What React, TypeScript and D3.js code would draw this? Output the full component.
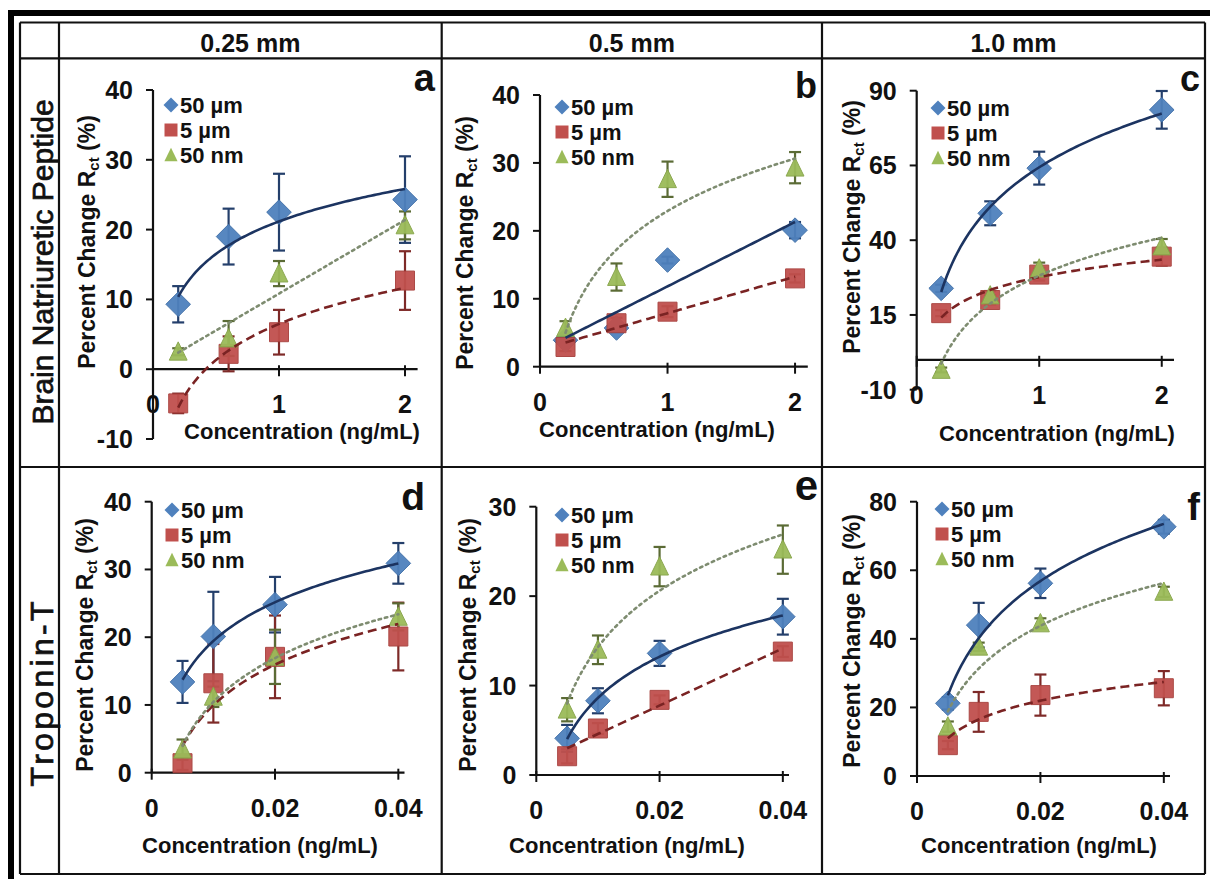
import React from "react";
import * as d3 from "d3";

// ---------- DATA ----------
const seriesNames = ["50 µm", "5 µm", "50 nm"];
const columnTitles = ["0.25 mm", "0.5 mm", "1.0 mm"];
const rowTitles = ["Brain Natriuretic Peptide", "Troponin-T"];
const panelLetters = ["a", "b", "c", "d", "e", "f"];
const xAxisTitle = "Concentration (ng/mL)";

const concBNP = [0.2, 0.6, 1, 2];
const concTnT = [0.005, 0.01, 0.02, 0.04];

const xTicksBNP = [0, 1, 2];
const xTickLabelsBNP = ["0", "1", "2"];
const xTicksTnT = [0, 0.02, 0.04];
const xTickLabelsTnT = ["0", "0.02", "0.04"];

const yTicksA = [-10, 0, 10, 20, 30, 40];
const yTicksB = [0, 10, 20, 30, 40];
const yTicksC = [-10, 15, 40, 65, 90];
const yTicksD = [0, 10, 20, 30, 40];
const yTicksE = [0, 10, 20, 30];
const yTicksF = [0, 20, 40, 60, 80];

// panel a (BNP, 0.25 mm)
const a50um = [9.3, 19.0, 22.5, 24.3];
const a50umErr = [2.6, 4.0, 5.5, 6.2];
const a5um = [-4.9, 2.2, 5.3, 12.7];
const a5umErr = [1.4, 2.5, 3.2, 4.2];
const a50nm = [2.5, 4.4, 13.7, 20.6];
const a50nmErr = [0.5, 2.5, 1.8, 2.0];
const aTrend = ["log", "log", "linear"];

// panel b (BNP, 0.5 mm)
const b50um = [3.9, 5.7, 15.7, 20.1];
const b50umErr = [0.5, 0.5, 0.5, 1.2];
const b5um = [2.9, 6.4, 8.1, 13.0];
const b5umErr = [0.6, 0.8, 0.8, 0.6];
const b50nm = [5.7, 13.2, 27.6, 29.3];
const b50nmErr = [1.0, 2.0, 2.6, 2.3];
const bTrend = ["linear", "linear", "log"];

// panel c (BNP, 1.0 mm)
const c50um = [23.9, 49.0, 64.1, 83.6];
const c50umErr = [1.2, 4.0, 5.5, 6.3];
const c5um = [15.6, 20.0, 28.5, 34.5];
const c5umErr = [1.0, 1.5, 2.0, 3.0];
const c50nm = [-3.4, 21.5, 30.5, 37.9];
const c50nmErr = [0.8, 1.5, 2.0, 2.5];
const cTrend = ["log", "log", "log"];

// panel d (Troponin-T, 0.25 mm)
const d50um = [13.4, 20.1, 24.8, 30.9];
const d50umErr = [3.1, 6.6, 4.1, 3.0];
const d5um = [1.4, 13.2, 17.1, 20.1];
const d5umErr = [1.0, 5.8, 6.1, 5.0];
const d50nm = [3.4, 11.2, 17.1, 23.0];
const d50nmErr = [1.5, 1.5, 4.0, 2.0];
const dTrend = ["log", "log", "log"];

// panel e (Troponin-T, 0.5 mm)
const e50um = [4.1, 8.3, 13.6, 17.7];
const e50umErr = [1.5, 1.4, 1.4, 2.0];
const e5um = [2.1, 5.2, 8.4, 13.8];
const e5umErr = [0.8, 0.6, 0.5, 0.6];
const e50nm = [7.3, 14.0, 23.3, 25.2];
const e50nmErr = [1.3, 1.6, 2.2, 2.7];
const eTrend = ["log", "linear", "log"];

// panel f (Troponin-T, 1.0 mm)
const f50um = [21.2, 44.0, 56.2, 72.7];
const f50umErr = [1.8, 6.5, 4.3, 2.0];
const f5um = [9.0, 18.7, 23.6, 25.6];
const f5umErr = [1.2, 5.8, 6.0, 5.0];
const f50nm = [14.4, 37.7, 44.5, 53.7];
const f50nmErr = [1.5, 1.2, 1.5, 1.5];
const fTrend = ["log", "log", "log"];

// ---------- STYLE / LAYOUT ----------
const FONT = "'Liberation Sans', Arial, Helvetica, sans-serif";
const markerFill = ["#4F81BD", "#C0504D", "#9BBB59"];
const markerStroke = ["#3F6FA8", "#A8403D", "#86A448"];
const errColor = ["#243F6B", "#7E2A28", "#5B6B35"];
const trendColor = ["#1C3461", "#7A2323", "#7E8C70"];
const trendDash = [null, "9,5", "2.5,4"];

type PanelCfg = {
  x: number[]; xDomain: number[]; xRange: number[];
  yDomain: number[]; yRange: number[];
  xTicks: number[]; xTickLabels: string[]; yTicks: number[];
  series: number[][]; errs: number[][]; trends: string[];
  letter: string; letterPos: number[]; letterSize: number;
  yTitle: number[]; xTitle: number[]; legend: number[];
};

const panels: PanelCfg[] = [
  {
    x: concBNP, xDomain: [0, 2.1], xRange: [153, 417.6], yDomain: [-10, 40], yRange: [439, 90],
    xTicks: xTicksBNP, xTickLabels: xTickLabelsBNP, yTicks: yTicksA,
    series: [a50um, a5um, a50nm], errs: [a50umErr, a5umErr, a50nmErr], trends: aTrend,
    letter: panelLetters[0], letterPos: [435, 91], letterSize: 38, yTitle: [87, 242], xTitle: [302, 431], legend: [171, 105],
  },
  {
    x: concBNP, xDomain: [0, 2.1], xRange: [540, 807.8], yDomain: [0, 40], yRange: [366.7, 95],
    xTicks: xTicksBNP, xTickLabels: xTickLabelsBNP, yTicks: yTicksB,
    series: [b50um, b5um, b50nm], errs: [b50umErr, b5umErr, b50nmErr], trends: bTrend,
    letter: panelLetters[1], letterPos: [817, 98], letterSize: 36, yTitle: [465, 243], xTitle: [657, 429], legend: [562, 107],
  },
  {
    x: concBNP, xDomain: [0, 2.1], xRange: [916.7, 1174], yDomain: [-10, 90], yRange: [389.7, 90.7],
    xTicks: xTicksBNP, xTickLabels: xTickLabelsBNP, yTicks: yTicksC,
    series: [c50um, c5um, c50nm], errs: [c50umErr, c5umErr, c50nmErr], trends: cTrend,
    letter: panelLetters[2], letterPos: [1200, 91], letterSize: 36, yTitle: [852, 227], xTitle: [1057, 433], legend: [938, 108],
  },
  {
    x: concTnT, xDomain: [0, 0.041], xRange: [151.7, 404.5], yDomain: [0, 40], yRange: [772.7, 501.7],
    xTicks: xTicksTnT, xTickLabels: xTickLabelsTnT, yTicks: yTicksD,
    series: [d50um, d5um, d50nm], errs: [d50umErr, d5umErr, d50nmErr], trends: dTrend,
    letter: panelLetters[3], letterPos: [425, 510], letterSize: 39, yTitle: [85, 645], xTitle: [260, 845], legend: [172, 510],
  },
  {
    x: concTnT, xDomain: [0, 0.041], xRange: [536.3, 789], yDomain: [0, 30], yRange: [775, 506.7],
    xTicks: xTicksTnT, xTickLabels: xTickLabelsTnT, yTicks: yTicksE,
    series: [e50um, e5um, e50nm], errs: [e50umErr, e5umErr, e50nmErr], trends: eTrend,
    letter: panelLetters[4], letterPos: [818, 500], letterSize: 42, yTitle: [468, 645], xTitle: [627, 845], legend: [562, 515],
  },
  {
    x: concTnT, xDomain: [0, 0.041], xRange: [917, 1170], yDomain: [0, 80], yRange: [776, 501.7],
    xTicks: xTicksTnT, xTickLabels: xTickLabelsTnT, yTicks: yTicksF,
    series: [f50um, f5um, f50nm], errs: [f50umErr, f5umErr, f50nmErr], trends: fTrend,
    letter: panelLetters[5], letterPos: [1200, 520], letterSize: 38, yTitle: [852, 641], xTitle: [1039, 845], legend: [942, 509],
  },
];

// least-squares trendline (as the spreadsheet computes it)
function fitTrend(xs: number[], ys: number[], type: string) {
  const tx = type === "log" ? xs.map((v) => Math.log(v)) : xs.slice();
  const mx = d3.mean(tx) as number;
  const my = d3.mean(ys) as number;
  let sxy = 0, sxx = 0;
  tx.forEach((v, i) => { sxy += (v - mx) * (ys[i] - my); sxx += (v - mx) * (v - mx); });
  const slope = sxy / sxx;
  const icpt = my - slope * mx;
  return (x: number) => icpt + slope * (type === "log" ? Math.log(x) : x);
}

function markerPath(kind: number, cx: number, cy: number, s: number) {
  const p = d3.path();
  if (kind === 0) {
    const r = s * 0.6;
    p.moveTo(cx, cy - r); p.lineTo(cx + r, cy); p.lineTo(cx, cy + r); p.lineTo(cx - r, cy); p.closePath();
  } else if (kind === 1) {
    const h = s * 0.5;
    p.rect(cx - h, cy - h, 2 * h, 2 * h);
  } else {
    const w = s * 0.47, ht = s * 0.52;
    p.moveTo(cx, cy - ht); p.lineTo(cx + w, cy + ht * 0.85); p.lineTo(cx - w, cy + ht * 0.85); p.closePath();
  }
  return p.toString();
}

function Panel({ cfg }: { cfg: PanelCfg }) {
  const xs = d3.scaleLinear().domain(cfg.xDomain).range(cfg.xRange);
  const ys = d3.scaleLinear().domain(cfg.yDomain).range(cfg.yRange);
  const ax = xs(0);
  const ay = ys(0);
  const yMin = d3.min(cfg.yTicks) as number;
  const yMax = d3.max(cfg.yTicks) as number;
  const markerSize = [20.5, 19, 19];
  const legendSize = [12.5, 13, 14];

  const trendPaths = cfg.series.map((vals, si) => {
    const f = fitTrend(cfg.x, vals, cfg.trends[si]);
    const lo = cfg.x[0], hi = cfg.x[cfg.x.length - 1];
    const samples = d3.range(0, 81).map((i) => lo + ((hi - lo) * i) / 80);
    const line = d3.line<number>().x((v) => xs(v)).y((v) => ys(f(v)));
    return line(samples) as string;
  });

  return (
    <g>
      {/* axes */}
      <line x1={ax} x2={ax} y1={ys(yMin)} y2={ys(yMax)} stroke="#111" strokeWidth={2.2} />
      <line x1={cfg.xRange[0]} x2={cfg.xRange[1]} y1={ay} y2={ay} stroke="#111" strokeWidth={2.2} />
      {cfg.yTicks.map((t) => (
        <g key={"yt" + t}>
          <line x1={ax - 7} x2={ax} y1={ys(t)} y2={ys(t)} stroke="#111" strokeWidth={2} />
          <text x={ax - 20} y={ys(t)} textAnchor="end" dominantBaseline="central"
            fontFamily={FONT} fontWeight="bold" fontSize={25} fill="#111">{t}</text>
        </g>
      ))}
      {cfg.xTicks.map((t, i) => (
        <g key={"xt" + t}>
          <line x1={xs(t)} x2={xs(t)} y1={ay - 4} y2={ay + 7} stroke="#111" strokeWidth={2} />
          <text x={xs(t)} y={ay + 35} textAnchor="middle" dominantBaseline="central"
            fontFamily={FONT} fontWeight="bold" fontSize={25} fill="#111">{cfg.xTickLabels[i]}</text>
        </g>
      ))}
      {/* error bars */}
      {cfg.series.map((vals, si) => (
        <g key={"err" + si} stroke={errColor[si]} strokeWidth={2.2}>
          {vals.map((v, i) => {
            const e = cfg.errs[si][i];
            const cx = xs(cfg.x[i]);
            const t = ys(v + e), b = ys(v - e);
            return (
              <g key={i}>
                <line x1={cx} x2={cx} y1={t} y2={b} />
                <line x1={cx - 6} x2={cx + 6} y1={t} y2={t} />
                <line x1={cx - 6} x2={cx + 6} y1={b} y2={b} />
              </g>
            );
          })}
        </g>
      ))}
      {/* markers */}
      {cfg.series.map((vals, si) => (
        <g key={"mk" + si}>
          {vals.map((v, i) => (
            <path key={i} d={markerPath(si, xs(cfg.x[i]), ys(v), markerSize[si])}
              fill={markerFill[si]} stroke={markerStroke[si]} strokeWidth={1} opacity={0.95} />
          ))}
        </g>
      ))}
      {/* trendlines */}
      {trendPaths.map((d, si) => (
        <path key={"tr" + si} d={d} fill="none" stroke={trendColor[si]}
          strokeWidth={2.6} strokeDasharray={trendDash[si] || undefined}
          strokeLinecap={si === 2 ? "round" : "butt"} />
      ))}
      {/* legend */}
      {seriesNames.map((name, si) => {
        const ly = cfg.legend[1] + si * 25;
        return (
          <g key={"lg" + si}>
            <path d={markerPath(si, cfg.legend[0], ly, legendSize[si])} fill={markerFill[si]} />
            <text x={cfg.legend[0] + 9} y={ly} dominantBaseline="central" fontFamily={FONT}
              fontWeight="bold" fontSize={22} fill="#111">{name}</text>
          </g>
        );
      })}
      {/* titles */}
      <text x={cfg.xTitle[0]} y={cfg.xTitle[1]} textAnchor="middle" dominantBaseline="central"
        fontFamily={FONT} fontWeight="bold" fontSize={22} fill="#111">{xAxisTitle}</text>
      <text transform={`translate(${cfg.yTitle[0]},${cfg.yTitle[1]}) rotate(-90)`} textAnchor="middle"
        dominantBaseline="central" fontFamily={FONT} fontWeight="bold" fontSize={23} fill="#111">
        Percent Change R<tspan fontSize={15} dy={6}>ct</tspan><tspan dy={-6}> (%)</tspan>
      </text>
      <text x={cfg.letterPos[0]} y={cfg.letterPos[1]} textAnchor="end" fontFamily={FONT}
        fontWeight="bold" fontSize={cfg.letterSize} fill="#111">{cfg.letter}</text>
    </g>
  );
}

export default function App() {
  const colX = [59, 441.7, 822, 1205];
  const rowY = [22.5, 58.3, 467, 874];
  return (
    <svg width={1210} height={879} viewBox="0 0 1210 879"
      style={{ position: "absolute", left: 0, top: 0, background: "#fff" }}>
      <rect x={0} y={0} width={1210} height={879} fill="#fff" />
      {/* outer thick border */}
      <rect x={8} y={10} width={1202} height={6} fill="#000" />
      <rect x={8} y={10} width={6} height={869} fill="#000" />
      {/* table grid */}
      <g stroke="#111" strokeWidth={2.2}>
        <line x1={20} x2={1205} y1={rowY[0]} y2={rowY[0]} />
        <line x1={20} x2={1205} y1={rowY[1]} y2={rowY[1]} />
        <line x1={20} x2={1205} y1={rowY[2]} y2={rowY[2]} />
        <line x1={20} x2={1205} y1={rowY[3]} y2={rowY[3]} />
        <line x1={20} x2={20} y1={rowY[0]} y2={rowY[3]} />
        {colX.map((x) => (
          <line key={x} x1={x} x2={x} y1={rowY[0]} y2={rowY[3]} />
        ))}
      </g>
      {columnTitles.map((t, i) => (
        <text key={t} x={(colX[i] + colX[i + 1]) / 2} y={43} textAnchor="middle" dominantBaseline="central"
          fontFamily={FONT} fontWeight="bold" fontSize={25} fill="#111">{t}</text>
      ))}
      <text transform="translate(42,262) rotate(-90)" textAnchor="middle" dominantBaseline="central"
        fontFamily={FONT} fontSize={30} fill="#111" stroke="#111" strokeWidth={0.7}>{rowTitles[0]}</text>
      <text transform="translate(42,694) rotate(-90)" textAnchor="middle" dominantBaseline="central"
        fontFamily={FONT} fontSize={32} fill="#111" stroke="#111" strokeWidth={0.7}
        textLength={185} lengthAdjust="spacing">{rowTitles[1]}</text>
      {panels.map((p, i) => (
        <Panel key={i} cfg={p} />
      ))}
    </svg>
  );
}
